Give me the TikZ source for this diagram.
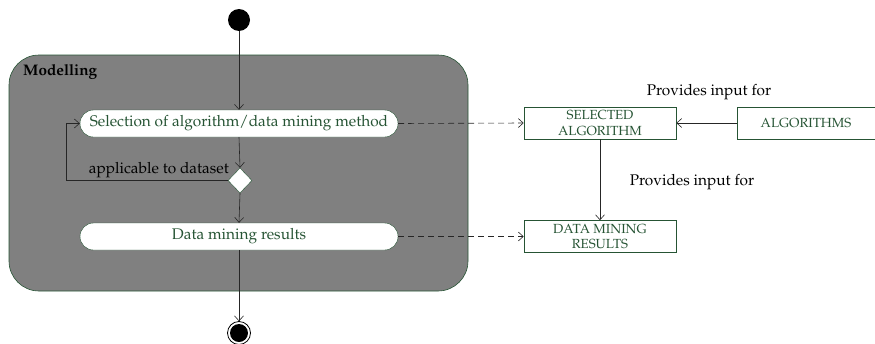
\documentclass[tikz,border=0pt]{standalone}
\usepackage[T1]{fontenc}
\usepackage{mathpazo}
\usetikzlibrary{arrows.meta,shapes.geometric}
\definecolor{dgreen}{RGB}{38,84,52}
\definecolor{panel}{RGB}{128,128,128}
\tikzset{
  flow/.style={draw=black!85, line width=0.6pt, -{Straight Barb[length=5pt,width=9pt]}},
  dep/.style={flow, dashed, dash pattern=on 6pt off 4pt},
  action/.style={draw=dgreen, fill=white, rounded corners=13.5pt, minimum width=318pt,
    minimum height=27pt, inner sep=0pt, text=dgreen, font=\fontsize{15.4}{17}\selectfont},
  artefact/.style={draw=dgreen, fill=white, line width=0.6pt, minimum height=32pt, inner sep=0pt,
    text=dgreen, align=center, font=\fontsize{13.2}{15.5}\selectfont},
  plain/.style={font=\fontsize{15.4}{17}\selectfont, inner sep=0pt},
}
\begin{document}
\begin{tikzpicture}[x=1pt,y=-1pt]
\useasboundingbox (0,0) rectangle (875,343);
% activity container
\draw[draw=dgreen, fill=panel, line width=0.6pt, rounded corners=30pt] (9,55) rectangle (468,291);
\node[anchor=west, font=\fontsize{15.3}{17}\selectfont\bfseries, inner sep=0pt] (title) at (23,72) {Modelling};
% start / end
\fill (239,20) circle (11) coordinate (start);
\node[circle, fill=black, minimum size=18pt, inner sep=0pt] (endd) at (239,333) {};
\draw[line width=0.8pt] (239,333) circle (11.5);
\node[circle, minimum size=23pt, inner sep=0pt] (endo) at (239,333) {};
% actions
\node[action] (sel) at (239,123.5) {Selection of algorithm/data mining method};
\node[diamond, draw=dgreen, fill=white, minimum width=24pt, minimum height=25pt, inner sep=0pt] (dec) at (240,180.5) {};
\node[action] (res) at (239,236.5) {Data mining results};
% artefacts
\node[artefact, minimum width=152pt] (selalg) at (600,123) {SELECTED\\ALGORITHM};
\node[artefact, minimum width=138pt] (algs) at (806,123) {ALGORITHMS};
\node[artefact, minimum width=152pt] (dmr) at (600,236.5) {DATA MINING\\RESULTS};
% control flow
\draw[flow] (239,31) -- (sel.north);
\draw[flow] (sel.south) -- (dec.north);
\draw[flow] (dec.south) -- (res.north);
\draw[flow] (res.south) -- (endo.north);
\draw[flow] (dec.west) -- (66,180.5) |- (sel.west);
\node[plain, anchor=base east] (guard) at (229,173) {applicable to dataset};
% object flows
\draw[dep] (sel.east) -- (selalg.west);
\draw[dep] (res.east) -- (dmr.west);
\draw[flow] (algs.west) -- (selalg.east);
\draw[flow] (selalg.south) -- (dmr.north);
\node[plain] (lab1) at (709,92) {Provides input for};
\node[plain] (lab2) at (692,182) {Provides input for};
\end{tikzpicture}
\end{document}
